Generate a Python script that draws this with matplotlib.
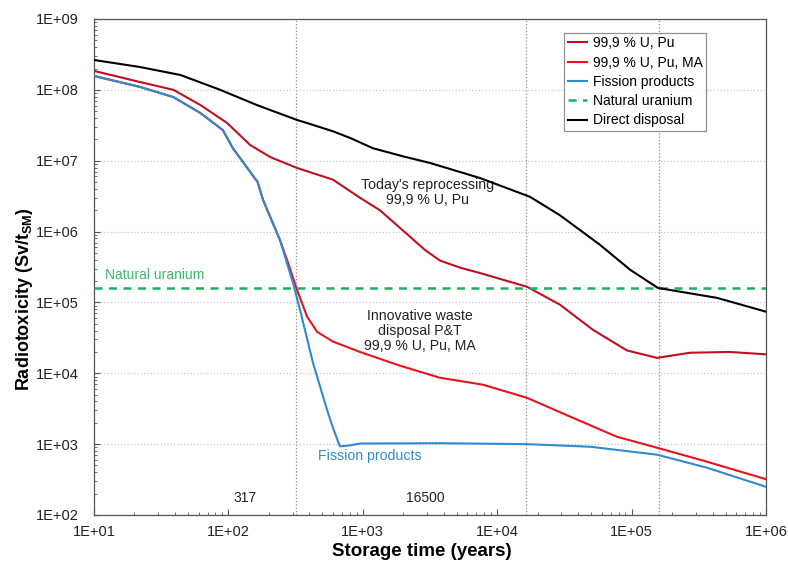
import math
import matplotlib
matplotlib.use("Agg")
import matplotlib.pyplot as plt
from matplotlib.ticker import FixedLocator, LogLocator, FuncFormatter, NullFormatter

plt.rcParams['font.family'] = ['Liberation Sans', 'DejaVu Sans']
plt.rcParams['mathtext.fontset'] = 'custom'
plt.rcParams['mathtext.rm'] = 'Liberation Sans'
plt.rcParams['mathtext.bf'] = 'Liberation Sans:bold'

# Werte (Jahre, Sv/t)
t_direct = [10, 22, 44, 87, 163, 324, 405, 600, 803, 1190, 2000, 3160, 7440, 17500,
            29300, 58200, 97300, 157000, 432000, 1000000]
v_direct = [2.64e8, 2.1e8, 1.62e8, 1.0e8, 6.1e7, 3.76e7, 3.3e7, 2.6e7, 2.1e7, 1.5e7,
            1.15e7, 9.3e6, 5.7e6, 3.1e6, 1.7e6, 6.5e5, 2.9e5, 1.6e5, 1.16e5, 7.4e4]

t_upu = [10, 22, 39, 62, 98, 145, 204, 324, 600, 953, 1340, 2240, 2900, 3750, 5280,
         7440, 16700, 29300, 51600, 92400, 154600, 272000, 540000, 1000000]
v_upu = [1.85e8, 1.29e8, 1.0e8, 6.1e7, 3.4e7, 1.67e7, 1.13e7, 7.9e6, 5.4e6, 3.0e6,
         2.0e6, 8.5e5, 5.5e5, 3.9e5, 3.1e5, 2.6e5, 1.66e5, 9.3e4, 4.1e4, 2.1e4,
         1.65e4, 1.95e4, 2.0e4, 1.85e4]

t_upuma = [10, 22, 39, 62, 91, 108, 165, 181, 242, 273, 324, 385, 457, 600, 953,
           1890, 3750, 7840, 16700, 36600, 77900, 154600, 364000, 1000000]
v_upuma = [1.57e8, 1.1e8, 7.9e7, 4.7e7, 2.7e7, 1.5e7, 5.0e6, 2.8e6, 7.6e5, 4.0e5,
           1.5e5, 6.3e4, 3.85e4, 2.8e4, 2.0e4, 1.28e4, 8650, 6900, 4500, 2350,
           1270, 890, 565, 320]

t_fp = [10, 22, 39, 62, 91, 108, 165, 181, 242, 302, 341, 426, 542, 600, 676, 803,
        953, 3750, 16700, 49000, 154600, 364000, 1000000]
v_fp = [1.57e8, 1.1e8, 7.9e7, 4.7e7, 2.7e7, 1.5e7, 5.0e6, 2.8e6, 7.6e5, 1.9e5,
        7.9e4, 1.4e4, 3050, 1700, 930, 960, 1020, 1030, 1000, 920, 710, 465, 250]

natural_uranium = 1.6e5
markers_t = [317, 16500, 160000]

x_ticks = [1e1, 1e2, 1e3, 1e4, 1e5, 1e6]
y_ticks = [1e2, 1e3, 1e4, 1e5, 1e6, 1e7, 1e8, 1e9]

fig = plt.figure(figsize=(7.88, 5.63), dpi=100)
ax = fig.add_axes([94/788, 48/563, 672/788, 496/563])
ax.set_xscale('log')
ax.set_yscale('log')
ax.set_xlim(10, 1e6)
ax.set_ylim(1e2, 1e9)

# Gitter nur horizontal, senkrechte Linien bei den Schnittpunkten
ax.yaxis.grid(True, which='major', color='#c8c8c8', linestyle=':', linewidth=0.9)
for t in markers_t:
    ax.axvline(t, color='#8a8a8a', linestyle=':', linewidth=0.9, zorder=1)

ax.plot(t_upuma, v_upuma, color='#e8141c', lw=1.5, label='99,9 % U, Pu, MA', zorder=3)
ax.plot(t_upu, v_upu, color='#c01020', lw=1.5, label='99,9 % U, Pu', zorder=3)
ax.plot(t_fp, v_fp, color='#2f8bd0', lw=1.5, label='Fission products', zorder=4)
ax.axhline(natural_uranium, color='#1fae5c', lw=1.8, dashes=(3.2, 2.6),
           label='Natural uranium', zorder=3)
ax.plot(t_direct, v_direct, color='black', lw=1.5, label='Direct disposal', zorder=4)

h, l = ax.get_legend_handles_labels()
order = [1, 0, 2, 3, 4]
leg = ax.legend([h[i] for i in order], [l[i] for i in order],
                loc='upper right', bbox_to_anchor=(0.911, 0.972), fontsize=10,
                handlelength=1.4, handletextpad=0.4, labelspacing=0.38,
                fancybox=False, borderpad=0.25, borderaxespad=0.0)
leg.get_frame().set_edgecolor('#777777')
leg.get_frame().set_linewidth(0.9)

ax.text(3050, 3.6e6, "Today's reprocessing\n99,9 % U, Pu", ha='center', va='center',
        fontsize=10.2, color='#222222', linespacing=1.1)
ax.text(2670, 4.0e4, "Innovative waste\ndisposal P&T\n99,9 % U, Pu, MA", ha='center',
        va='center', fontsize=10.2, color='#222222', linespacing=1.1)
ax.text(1130, 690, "Fission products", ha='center', va='center', fontsize=10.2,
        color='#2f8bd0')
ax.text(12, 2.45e5, "Natural uranium", ha='left', va='center', fontsize=10,
        color='#3cb96a')
ax.text(133, 175, "317", ha='center', va='center', fontsize=10, color='#222222')
ax.text(2900, 175, "16500", ha='center', va='center', fontsize=10, color='#222222')

fmt = FuncFormatter(lambda v, p: "1E+%02d" % round(math.log10(v)))
ax.xaxis.set_major_locator(FixedLocator(x_ticks))
ax.yaxis.set_major_locator(FixedLocator(y_ticks))
ax.xaxis.set_minor_locator(LogLocator(base=10, subs=range(2, 10), numticks=20))
ax.yaxis.set_minor_locator(LogLocator(base=10, subs=range(2, 10), numticks=20))
ax.xaxis.set_major_formatter(fmt)
ax.yaxis.set_major_formatter(fmt)
ax.xaxis.set_minor_formatter(NullFormatter())
ax.yaxis.set_minor_formatter(NullFormatter())
ax.tick_params(which='both', direction='in', colors='#555555', labelcolor='#222222',
               labelsize=10.5)
ax.tick_params(which='major', length=4)
ax.tick_params(axis='y', which='major', pad=11)
ax.tick_params(axis='x', which='major', pad=7)
ax.tick_params(which='minor', length=2.5)
for s in ax.spines.values():
    s.set_color('#555555')
    s.set_linewidth(0.9)

ax.set_xlabel('Storage time (years)', fontsize=13.5, fontweight='bold')
ax.set_ylabel('Radiotoxicity (Sv/t$_{\\mathbf{SM}}$)', fontsize=13,
              fontweight='bold')
ax.xaxis.set_label_coords(0.488, -0.056)
ax.yaxis.set_label_coords(-0.088, 0.435)

fig.savefig('out.png', dpi=100)
